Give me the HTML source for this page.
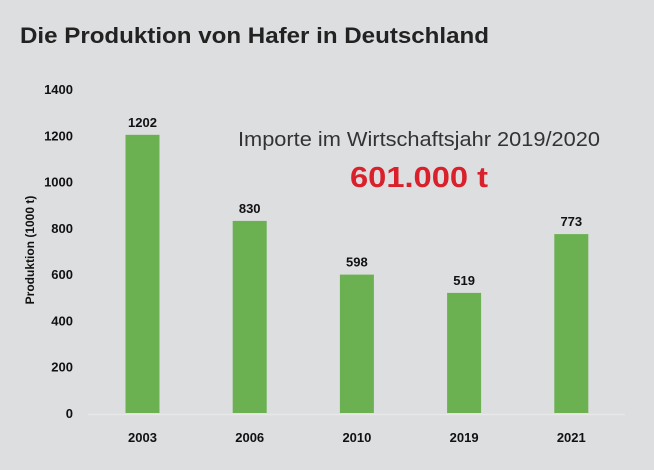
<!DOCTYPE html>
<html><head><meta charset="utf-8"><style>
body{margin:0;width:654px;height:470px;background:#dddee0;font-family:"Liberation Sans",sans-serif;overflow:hidden}
svg{display:block}
</style></head><body>
<svg width="654" height="470">
<rect width="654" height="470" fill="#dddee0"/>
<text x="20" y="43" font-size="22" font-weight="bold" fill="#222" textLength="469" lengthAdjust="spacingAndGlyphs">Die Produktion von Hafer in Deutschland</text>
<text x="238" y="146" font-size="20" fill="#333" textLength="362" lengthAdjust="spacingAndGlyphs">Importe im Wirtschaftsjahr 2019/2020</text>
<text x="350" y="187" font-size="29" font-weight="bold" fill="#d9202b" textLength="138" lengthAdjust="spacingAndGlyphs">601.000 t</text>
<text transform="translate(34,250) rotate(-90)" font-size="12" font-weight="bold" fill="#111" text-anchor="middle">Produktion (1000 t)</text>
<line x1="88" x2="625" y1="414.5" y2="414.5" stroke="#e8e8e8" stroke-width="1.5"/>
<g id="g"></g>
</svg>
<script>
const categories=["2003","2006","2010","2019","2021"];
const values=[1202,830,598,519,773];
const yTicks=[0,200,400,600,800,1000,1200,1400];
const y=v=>413-v*(324/1400);
const x=i=>142.5+i*107.2;
const g=document.getElementById('g');const NS='http://www.w3.org/2000/svg';
function mk(t,a,txt){const e=document.createElementNS(NS,t);for(const k in a)e.setAttribute(k,a[k]);if(txt!=null)e.textContent=txt;g.appendChild(e);return e;}
yTicks.forEach(t=>{const e=mk('text',{x:73,y:y(t)+5,'font-size':13,'font-weight':'bold',fill:'#111','text-anchor':'end'},t);

});
categories.forEach((c,i)=>{
const b=mk('rect',{x:x(i)-17,y:y(values[i]),width:34,height:413-y(values[i]),fill:'#6bb152'});


const l=mk('text',{x:x(i),y:y(values[i])-8,'font-size':13,'font-weight':'bold',fill:'#111','text-anchor':'middle'},values[i]);


const xl=mk('text',{x:x(i),y:442,'font-size':13,'font-weight':'bold',fill:'#111','text-anchor':'middle'},c);


});
</script>
</body></html>
